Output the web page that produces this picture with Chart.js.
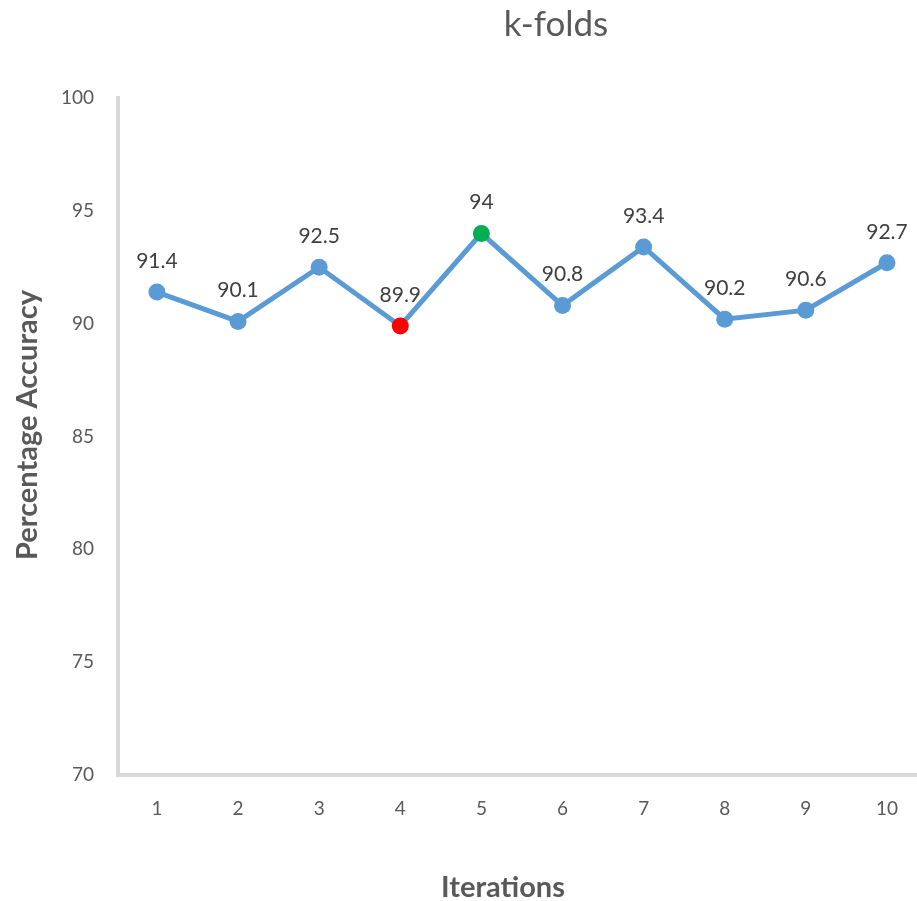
<!DOCTYPE html>
<html>
<head>
<meta charset="utf-8">
<script src="https://cdn.jsdelivr.net/npm/chart.js@4"></script>
<style>
html,body{margin:0;padding:0;background:#fff;}
#wrap{width:917px;height:901px;position:relative;}
</style>
</head>
<body>
<div id="wrap"><canvas id="c" width="917" height="901"></canvas></div>
<script>
const categories = ["1","2","3","4","5","6","7","8","9","10"];
const accuracy = [91.4, 90.1, 92.5, 89.9, 94, 90.8, 93.4, 90.2, 90.6, 92.7];
const yTicks = [70, 75, 80, 85, 90, 95, 100];
const pointColors = ["#5b9bd5","#5b9bd5","#5b9bd5","#ff0000","#00b050","#5b9bd5","#5b9bd5","#5b9bd5","#5b9bd5","#5b9bd5"];

const FONT = "Lato, 'Open Sans', sans-serif";

const labelPlugin = {
  id: 'labels',
  afterDatasetsDraw(chart) {
    const ctx = chart.ctx;
    const meta = chart.getDatasetMeta(0);
    ctx.save();
    ctx.font = "21px " + FONT;
    ctx.fillStyle = "#404040";
    ctx.textAlign = "center";
    ctx.textBaseline = "middle";
    meta.data.forEach((pt, i) => {
      ctx.fillText(String(accuracy[i]), pt.x, pt.y - 31);
    });
    ctx.restore();
  },
  afterDraw(chart) {
    const ctx = chart.ctx;
    ctx.save();
    ctx.fillStyle = "#595959";
    ctx.textAlign = "center";
    ctx.textBaseline = "middle";
    ctx.font = "35px " + FONT;
    ctx.fillText("k-folds", 556, 25);
    ctx.font = "bold 29px " + FONT;
    ctx.fillText("Iterations", 503, 888);
    ctx.translate(28, 425);
    ctx.rotate(-Math.PI / 2);
    ctx.fillText("Percentage Accuracy", 0, 0);
    ctx.restore();
  }
};

new Chart(document.getElementById('c'), {
  type: 'line',
  data: {
    datasets: [{
      data: accuracy.map((v, i) => ({x: i + 1, y: v})),
      borderColor: "#5b9bd5",
      borderWidth: 5,
      pointBackgroundColor: pointColors,
      pointBorderColor: pointColors,
      pointRadius: 8.5,
      pointBorderWidth: 0,
      tension: 0,
      fill: false,
      clip: false
    }]
  },
  options: {
    responsive: false,
    animation: false,
    layout: { autoPadding: false, padding: { top: 98, right: 0, left: 0, bottom: 0 } },
    plugins: { legend: { display: false }, tooltip: { enabled: false }, title: { display: false } },
    scales: {
      x: {
        type: 'linear',
        min: 0.52,
        max: 10.37,
        afterBuildTicks: s => { s.ticks = categories.map((c, i) => ({ value: i + 1 })); },
        afterFit: s => { s.height = 126; s.paddingLeft = 0; s.paddingRight = 0; },
        grid: { display: false, drawTicks: false },
        border: { display: true, color: "#d9d9d9", width: 4 },
        ticks: {
          autoSkip: false,
          maxRotation: 0,
          padding: 22,
          color: "#595959",
          font: { family: FONT, size: 19 },
          callback: v => categories[v - 1]
        }
      },
      y: {
        min: 70,
        max: 100,
        afterBuildTicks: s => { s.ticks = yTicks.map(v => ({ value: v })); },
        afterFit: s => { s.width = 118; s.paddingTop = 0; s.paddingBottom = 0; },
        grid: { display: false, drawTicks: false },
        border: { display: true, color: "#d9d9d9", width: 4 },
        ticks: {
          padding: 24,
          color: "#595959",
          font: { family: FONT, size: 19 }
        }
      }
    }
  },
  plugins: [labelPlugin]
});
</script>
</body>
</html>
